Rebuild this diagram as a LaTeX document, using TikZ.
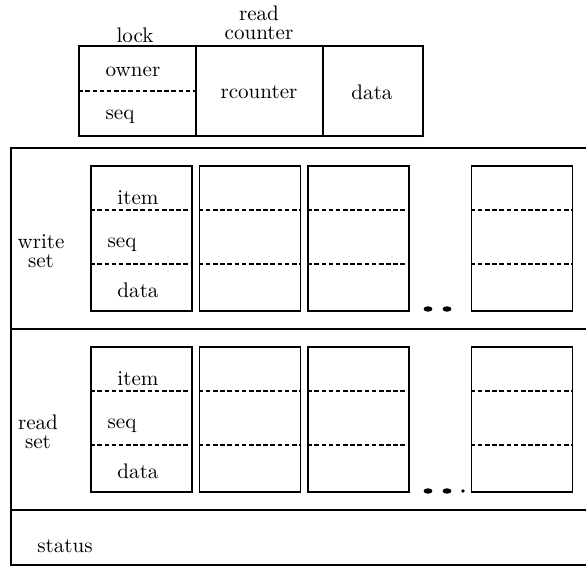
\documentclass[tikz,border=0pt]{standalone}
\usetikzlibrary{shapes.geometric}
\begin{document}
\begin{tikzpicture}[x=0.474pt,y=-0.474pt,
  box/.style={draw,thick,rectangle,inner sep=0pt},
  sep/.style={thick,densely dashed,dash pattern=on 2.2pt off 1.2pt},
  lbl/.style={inner sep=0pt,align=center,font=\normalsize},
  dotc/.style={fill,ellipse,inner sep=0pt}]
\useasboundingbox (0,0) rectangle (586,566);
% top structure
\node[box,minimum width=117*0.474pt,minimum height=90*0.474pt] (lockbox) at (137.5,91) {};
\node[box,minimum width=127*0.474pt,minimum height=90*0.474pt] (rcbox) at (259.5,91) {};
\node[box,minimum width=100*0.474pt,minimum height=90*0.474pt] (databox) at (373,91) {};
\draw[sep] (lockbox.west) -- (lockbox.east);
\node[lbl] (lock) at (135,35) {lock};
\node[lbl] (rclbl) at (259,23) {read\\[-3pt]counter};
\node[lbl] (owner) at (133,72) {owner};
\node[lbl] (lseq) at (120,117) {seq};
\node[lbl] (rcounter) at (259,92) {rcounter};
\node[lbl] (tdata) at (372,92) {data};
% outer frame
\node[box,minimum width=590*0.474pt,minimum height=181*0.474pt,anchor=north west] (wsframe) at (10,147) {};
\node[box,minimum width=590*0.474pt,minimum height=181*0.474pt,anchor=north west] (rsframe) at (10,328) {};
\node[box,minimum width=590*0.474pt,minimum height=55*0.474pt,anchor=north west] (stframe) at (10,509) {};
\node[lbl] (wslbl) at (41,251) {write\\[-3pt]set};
\node[lbl] (rslbl) at (38,432) {read\\[-3pt]set};
\node[lbl,anchor=west] (status) at (37,546) {status};
% cells
\foreach \nm/\cx in {a/141.5,b/250,c/358.5,d/522}{
  \node[box,minimum width=101*0.474pt,minimum height=145*0.474pt,anchor=north] (w\nm) at (\cx,165) {};
  \draw[sep] ([yshift=-45*0.474pt]w\nm.north west) coordinate (w\nm1l) -- ([yshift=-45*0.474pt]w\nm.north east) coordinate (w\nm1r);
  \draw[sep] ([yshift=-99*0.474pt]w\nm.north west) coordinate (w\nm2l) -- ([yshift=-99*0.474pt]w\nm.north east) coordinate (w\nm2r);
  \node[box,minimum width=101*0.474pt,minimum height=145*0.474pt,anchor=north] (r\nm) at (\cx,346) {};
  \draw[sep] ([yshift=-45*0.474pt]r\nm.north west) coordinate (r\nm1l) -- ([yshift=-45*0.474pt]r\nm.north east) coordinate (r\nm1r);
  \draw[sep] ([yshift=-99*0.474pt]r\nm.north west) coordinate (r\nm2l) -- ([yshift=-99*0.474pt]r\nm.north east) coordinate (r\nm2r);
}
\node[lbl] (witem) at (138,198) {item};
\node[lbl] (wseq) at (122,245) {seq};
\node[lbl] (wdata) at (138,290) {data};
\node[lbl] (ritem) at (138,379) {item};
\node[lbl] (rseq) at (122,426) {seq};
\node[lbl] (rdata) at (138,471) {data};
% dots
\node[dotc,minimum width=4.2pt,minimum height=2.6pt] (wd1) at (428,309) {};
\node[dotc,minimum width=4.2pt,minimum height=2.6pt] (wd2) at (447,309) {};
\node[dotc,minimum width=4.2pt,minimum height=2.6pt] (rd1) at (428,491) {};
\node[dotc,minimum width=4.2pt,minimum height=2.6pt] (rd2) at (447,491) {};
\node[dotc,minimum size=1.8pt] (rd3) at (463,491) {};
\end{tikzpicture}
\end{document}
